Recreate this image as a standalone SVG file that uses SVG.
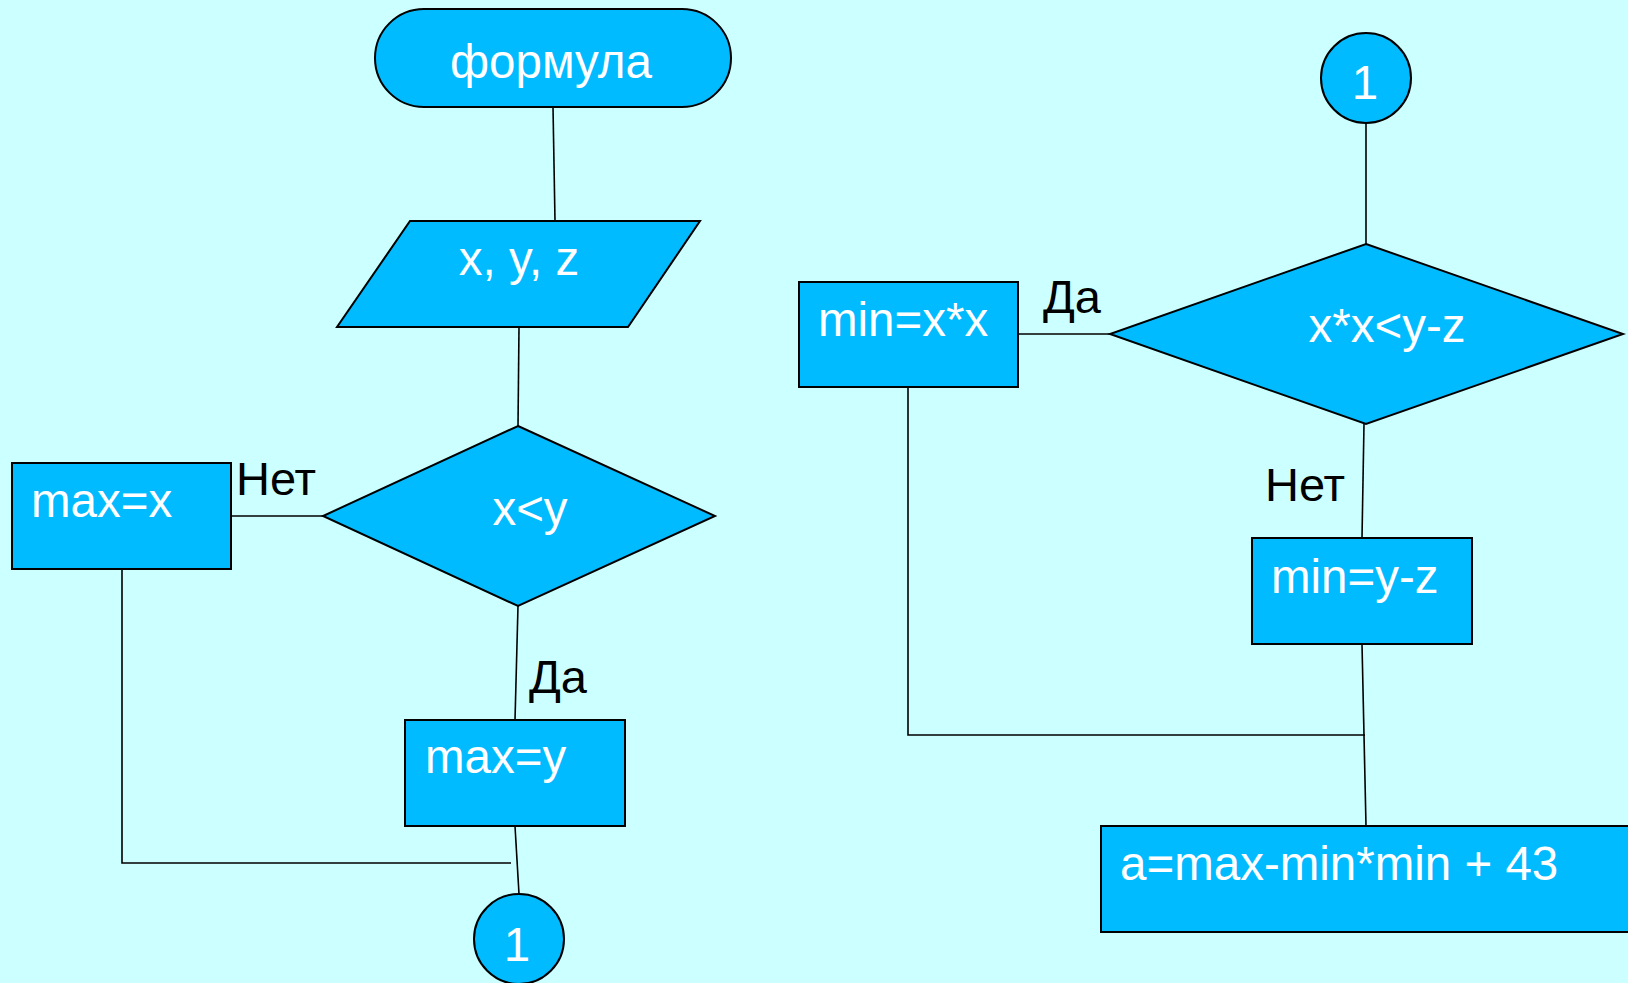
<svg xmlns="http://www.w3.org/2000/svg" width="1628" height="983" viewBox="0 0 1628 983">
<style>
.s{fill:#00BBFF;stroke:#000;stroke-width:2}
.t{fill:#fff;font-family:"Liberation Sans",Arial,sans-serif;font-size:47.5px}
.l{fill:#000;font-family:"Liberation Sans",Arial,sans-serif;font-size:47px}
.c{fill:none;stroke:#000;stroke-width:1.6}
</style>
<rect width="1628" height="983" fill="#CCFFFF"/>
<g id="connectors">
<polyline class="c" points="553,107 555,221"/>
<polyline class="c" points="519,327 518,426"/>
<polyline class="c" points="231,516 324,516"/>
<polyline class="c" points="518,606 515,720"/>
<polyline class="c" points="122,569 122,863 511,863"/>
<polyline class="c" points="515,826 519,894"/>
<polyline class="c" points="1366,123 1366,244"/>
<polyline class="c" points="1018,334 1110,334"/>
<polyline class="c" points="1364,424 1362,538"/>
<polyline class="c" points="908,387 908,735 1365,735"/>
<polyline class="c" points="1362,644 1366,826"/>
</g>
<g id="start">
<rect class="s" x="375" y="9" width="356" height="98" rx="49" ry="49"/>
<text class="t" x="551" y="78" text-anchor="middle">формула</text>
</g>
<g id="input">
<polygon class="s" points="410,221 700,221 628,327 337,327"/>
<text class="t" x="519" y="275" text-anchor="middle">x, y, z</text>
</g>
<g id="cond1">
<polygon class="s" points="518,426 715,516 518,606 323,516"/>
<text class="t" x="530" y="525" text-anchor="middle">x&lt;y</text>
</g>
<g id="maxx">
<rect class="s" x="12" y="463" width="219" height="106"/>
<text class="t" x="31" y="517">max=x</text>
</g>
<g id="maxy">
<rect class="s" x="405" y="720" width="220" height="106"/>
<text class="t" x="425" y="773">max=y</text>
</g>
<g id="conn1a">
<circle class="s" cx="519" cy="939" r="45"/>
<text class="t" x="517" y="961" text-anchor="middle">1</text>
</g>
<g id="conn1b">
<circle class="s" cx="1366" cy="78" r="45"/>
<text class="t" x="1365" y="99" text-anchor="middle">1</text>
</g>
<g id="cond2">
<polygon class="s" points="1366,244 1623,334 1366,424 1110,334"/>
<text class="t" x="1387" y="342" text-anchor="middle">x*x&lt;y-z</text>
</g>
<g id="minxx">
<rect class="s" x="799" y="282" width="219" height="105"/>
<text class="t" x="818" y="336">min=x*x</text>
</g>
<g id="minyz">
<rect class="s" x="1252" y="538" width="220" height="106"/>
<text class="t" x="1271" y="593">min=y-z</text>
</g>
<g id="result">
<rect class="s" x="1101" y="826" width="535" height="106"/>
<text class="t" x="1120" y="880">a=max-min*min + 43</text>
</g>
<g id="labels">
<text class="l" x="236" y="495">Нет</text>
<text class="l" x="529" y="693">Да</text>
<text class="l" x="1043" y="313">Да</text>
<text class="l" x="1265" y="501">Нет</text>
</g>
</svg>
